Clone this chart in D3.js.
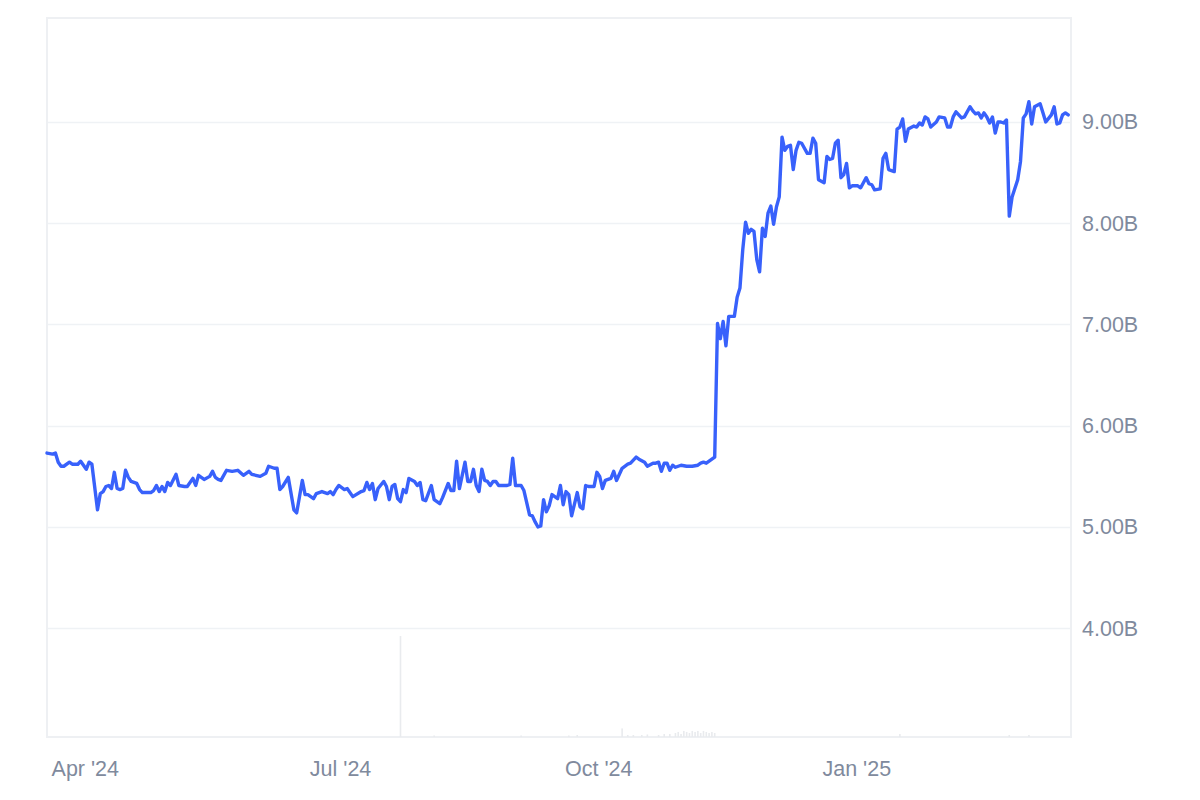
<!DOCTYPE html>
<html>
<head>
<meta charset="utf-8">
<script src="https://cdn.jsdelivr.net/npm/d3@7/dist/d3.min.js"></script>
<style>
  html, body { margin: 0; padding: 0; background: #ffffff; }
  svg { display: block; }
  text { font-family: "Liberation Sans", Arial, Helvetica, sans-serif; }
</style>
</head>
<body>
<svg id="chart" width="1200" height="800"></svg>
<script>
// ---- DATA (market cap, billions USD) ----
const priceSeries = [
["2024-03-18",5.73],["2024-03-20",5.72],["2024-03-21",5.73],["2024-03-22",5.64],["2024-03-23",5.60],["2024-03-24",5.60],
["2024-03-26",5.64],["2024-03-27",5.62],["2024-03-29",5.62],["2024-03-30",5.65],["2024-03-31",5.61],["2024-04-01",5.57],
["2024-04-02",5.64],["2024-04-03",5.62],["2024-04-05",5.17],["2024-04-06",5.33],["2024-04-07",5.35],["2024-04-08",5.40],
["2024-04-09",5.41],["2024-04-10",5.38],["2024-04-11",5.54],["2024-04-12",5.38],["2024-04-13",5.37],["2024-04-14",5.38],
["2024-04-15",5.56],["2024-04-16",5.49],["2024-04-17",5.45],["2024-04-19",5.43],["2024-04-20",5.37],["2024-04-21",5.34],
["2024-04-24",5.34],["2024-04-25",5.36],["2024-04-26",5.41],["2024-04-27",5.35],["2024-04-28",5.40],["2024-04-29",5.35],
["2024-04-30",5.44],["2024-05-01",5.41],["2024-05-03",5.52],["2024-05-04",5.41],["2024-05-06",5.40],["2024-05-07",5.40],
["2024-05-09",5.48],["2024-05-10",5.41],["2024-05-11",5.51],["2024-05-13",5.47],["2024-05-15",5.50],["2024-05-16",5.55],
["2024-05-17",5.49],["2024-05-18",5.47],["2024-05-19",5.46],["2024-05-21",5.56],["2024-05-23",5.55],["2024-05-25",5.56],
["2024-05-27",5.51],["2024-05-29",5.55],["2024-05-30",5.52],["2024-06-02",5.50],["2024-06-04",5.53],["2024-06-05",5.60],
["2024-06-07",5.58],["2024-06-08",5.58],["2024-06-09",5.37],["2024-06-10",5.40],["2024-06-12",5.49],["2024-06-14",5.17],
["2024-06-15",5.14],["2024-06-17",5.46],["2024-06-18",5.32],["2024-06-19",5.32],["2024-06-21",5.28],["2024-06-22",5.33],
["2024-06-24",5.35],["2024-06-26",5.33],["2024-06-27",5.35],["2024-06-28",5.32],["2024-06-29",5.37],["2024-06-30",5.41],
["2024-07-02",5.37],["2024-07-03",5.38],["2024-07-05",5.30],["2024-07-08",5.35],["2024-07-09",5.36],["2024-07-10",5.44],
["2024-07-11",5.37],["2024-07-12",5.43],["2024-07-13",5.27],["2024-07-14",5.38],["2024-07-16",5.45],["2024-07-17",5.40],
["2024-07-18",5.27],["2024-07-19",5.40],["2024-07-20",5.42],["2024-07-21",5.28],["2024-07-22",5.25],["2024-07-23",5.37],
["2024-07-24",5.34],["2024-07-25",5.48],["2024-07-27",5.45],["2024-07-28",5.41],["2024-07-29",5.44],["2024-07-30",5.27],
["2024-07-31",5.26],["2024-08-02",5.41],["2024-08-03",5.27],["2024-08-05",5.23],["2024-08-06",5.29],["2024-08-08",5.43],
["2024-08-09",5.36],["2024-08-10",5.36],["2024-08-11",5.65],["2024-08-12",5.38],["2024-08-14",5.64],["2024-08-15",5.45],
["2024-08-16",5.45],["2024-08-17",5.57],["2024-08-18",5.41],["2024-08-19",5.35],["2024-08-20",5.57],["2024-08-21",5.46],
["2024-08-22",5.45],["2024-08-23",5.41],["2024-08-24",5.45],["2024-08-25",5.45],["2024-08-26",5.41],["2024-08-29",5.41],
["2024-08-30",5.42],["2024-08-31",5.68],["2024-09-01",5.41],["2024-09-03",5.41],["2024-09-04",5.36],["2024-09-06",5.12],
["2024-09-07",5.11],["2024-09-08",5.05],["2024-09-09",5.00],["2024-09-10",5.01],["2024-09-11",5.27],["2024-09-12",5.15],
["2024-09-13",5.21],["2024-09-14",5.32],["2024-09-15",5.30],["2024-09-16",5.28],["2024-09-17",5.41],["2024-09-18",5.22],
["2024-09-19",5.35],["2024-09-20",5.32],["2024-09-21",5.11],["2024-09-23",5.34],["2024-09-24",5.20],["2024-09-25",5.18],
["2024-09-26",5.41],["2024-09-27",5.40],["2024-09-29",5.40],["2024-09-30",5.54],["2024-10-01",5.50],["2024-10-02",5.38],
["2024-10-03",5.46],["2024-10-05",5.48],["2024-10-06",5.55],["2024-10-07",5.46],["2024-10-09",5.58],["2024-10-11",5.62],
["2024-10-12",5.63],["2024-10-14",5.69],["2024-10-15",5.67],["2024-10-17",5.64],["2024-10-18",5.60],["2024-10-20",5.63],
["2024-10-21",5.63],["2024-10-22",5.64],["2024-10-23",5.55],["2024-10-24",5.63],["2024-10-25",5.63],["2024-10-26",5.56],
["2024-10-27",5.61],["2024-10-28",5.59],["2024-10-30",5.61],["2024-11-01",5.60],["2024-11-03",5.60],["2024-11-05",5.61],
["2024-11-06",5.63],["2024-11-07",5.64],["2024-11-08",5.63],["2024-11-10",5.67],["2024-11-11",5.69],["2024-11-12",7.01],
["2024-11-13",6.86],["2024-11-14",7.03],["2024-11-15",6.79],["2024-11-16",7.08],["2024-11-17",7.08],["2024-11-18",7.08],
["2024-11-19",7.27],["2024-11-20",7.36],["2024-11-21",7.74],["2024-11-22",8.01],["2024-11-23",7.90],["2024-11-24",7.94],
["2024-11-25",7.92],["2024-11-26",7.64],["2024-11-27",7.52],["2024-11-28",7.95],["2024-11-29",7.87],["2024-11-30",8.10],
["2024-12-01",8.17],["2024-12-02",7.99],["2024-12-03",8.16],["2024-12-04",8.26],["2024-12-05",8.85],["2024-12-06",8.72],
["2024-12-07",8.76],["2024-12-08",8.77],["2024-12-09",8.53],["2024-12-10",8.72],["2024-12-11",8.80],["2024-12-12",8.79],
["2024-12-14",8.69],["2024-12-15",8.69],["2024-12-16",8.84],["2024-12-17",8.79],["2024-12-18",8.43],["2024-12-20",8.40],
["2024-12-21",8.66],["2024-12-22",8.63],["2024-12-23",8.64],["2024-12-24",8.79],["2024-12-25",8.82],["2024-12-26",8.45],
["2024-12-27",8.48],["2024-12-28",8.59],["2024-12-29",8.35],["2024-12-30",8.37],["2025-01-01",8.37],["2025-01-02",8.35],
["2025-01-03",8.40],["2025-01-04",8.45],["2025-01-05",8.39],["2025-01-06",8.38],["2025-01-07",8.33],["2025-01-09",8.34],
["2025-01-10",8.64],["2025-01-11",8.69],["2025-01-12",8.53],["2025-01-14",8.51],["2025-01-15",8.93],["2025-01-16",8.95],
["2025-01-17",9.03],["2025-01-18",8.81],["2025-01-19",8.93],["2025-01-21",8.96],["2025-01-22",8.95],["2025-01-23",8.99],
["2025-01-24",8.97],["2025-01-25",9.05],["2025-01-26",9.03],["2025-01-27",8.95],["2025-01-29",9.00],["2025-01-30",9.05],
["2025-02-01",9.04],["2025-02-02",8.95],["2025-02-03",8.95],["2025-02-04",9.05],["2025-02-05",9.10],["2025-02-07",9.04],
["2025-02-08",9.05],["2025-02-10",9.15],["2025-02-11",9.11],["2025-02-12",9.08],["2025-02-13",9.09],["2025-02-14",9.04],
["2025-02-15",9.09],["2025-02-16",9.05],["2025-02-17",8.99],["2025-02-18",9.05],["2025-02-19",8.89],["2025-02-20",9.00],
["2025-02-21",9.00],["2025-02-22",8.99],["2025-02-23",9.02],["2025-02-24",8.07],["2025-02-25",8.26],["2025-02-27",8.43],
["2025-02-28",8.61],["2025-03-01",9.04],["2025-03-02",9.08],["2025-03-03",9.20],["2025-03-04",8.98],["2025-03-05",9.15],
["2025-03-07",9.18],["2025-03-08",9.09],["2025-03-09",9.00],["2025-03-11",9.07],["2025-03-12",9.15],["2025-03-13",8.98],
["2025-03-14",8.99],["2025-03-15",9.07],["2025-03-16",9.09],["2025-03-17",9.07]
];

// volume (relative units, faint bars at the bottom)
const volumeSeries = [
["2024-07-22",100],["2024-08-03",1.5],["2024-09-03",1.5],["2024-09-20",1.5],["2024-09-23",2],
["2024-10-09",8.5],["2024-10-11",2],["2024-10-13",2],["2024-10-16",2],["2024-10-18",2.5],["2024-10-22",2],
["2024-10-24",3],["2024-10-26",3],["2024-10-28",4],["2024-10-29",5],["2024-10-30",3],["2024-10-31",6],
["2024-11-01",5],["2024-11-02",4],["2024-11-03",6],["2024-11-04",5],["2024-11-05",6],["2024-11-06",4],
["2024-11-07",6],["2024-11-08",5],["2024-11-09",4],["2024-11-10",5],["2024-11-11",4],
["2025-01-16",3],["2025-02-24",2],["2025-03-03",2]
];

const xDomain = ["2024-03-18","2025-03-18"];
const yDomain = [2.926, 10.027];
const volumeMax = 100;
const yTicks = [4, 5, 6, 7, 8, 9];
const xTickDates = ["2024-04-01","2024-07-01","2024-10-01","2025-01-01"];
const xTickLabels = ["Apr '24","Jul '24","Oct '24","Jan '25"];

// ---- LAYOUT ----
const plot = { left: 47, right: 1071, top: 18, bottom: 737 };
const parse = d3.utcParse("%Y-%m-%d");

const svg = d3.select("#chart");

const x = d3.scaleUtc()
  .domain(xDomain.map(parse))
  .range([plot.left, plot.right]);

const y = d3.scaleLinear()
  .domain(yDomain)
  .range([plot.bottom, plot.top]);

const yVol = d3.scaleLinear()
  .domain([0, volumeMax])
  .range([plot.bottom, plot.bottom - 101]);

// gridlines
svg.append("g")
  .selectAll("line")
  .data(yTicks)
  .join("line")
  .attr("x1", plot.left)
  .attr("x2", plot.right)
  .attr("y1", d => Math.round(y(d)) + 0.5)
  .attr("y2", d => Math.round(y(d)) + 0.5)
  .attr("stroke", "#EFF2F5")
  .attr("stroke-width", 1.5);

// frame
svg.append("rect")
  .attr("x", plot.left)
  .attr("y", plot.top)
  .attr("width", plot.right - plot.left)
  .attr("height", plot.bottom - plot.top)
  .attr("fill", "none")
  .attr("stroke", "#EEF0F3")
  .attr("stroke-width", 2);

// volume bars
svg.append("g")
  .selectAll("rect")
  .data(volumeSeries)
  .join("rect")
  .attr("x", d => x(parse(d[0])) - 0.8)
  .attr("width", 1.6)
  .attr("y", d => yVol(d[1]))
  .attr("height", d => plot.bottom - yVol(d[1]))
  .attr("fill", "#E9EBEE");

// line
const line = d3.line()
  .x(d => x(parse(d[0])))
  .y(d => y(d[1]))
  .curve(d3.curveLinear);

svg.append("path")
  .datum(priceSeries)
  .attr("d", line)
  .attr("fill", "none")
  .attr("stroke", "#3861FB")
  .attr("stroke-width", 3.4)
  .attr("stroke-linejoin", "round")
  .attr("stroke-linecap", "round");

// y axis (right)
const yAxis = d3.axisRight(y)
  .tickValues(yTicks)
  .tickFormat(d => d3.format(".2f")(d) + "B")
  .tickSize(0)
  .tickPadding(11);

const gy = svg.append("g")
  .attr("transform", `translate(${plot.right},0)`)
  .call(yAxis);
gy.select(".domain").remove();
gy.selectAll("text")
  .attr("fill", "#808A9D")
  .style("font-size", "21.5px")
  .style("font-family", "'Liberation Sans', Arial, sans-serif");

// x axis (bottom)
const xAxis = d3.axisBottom(x)
  .tickValues(xTickDates.map(parse))
  .tickFormat((d, i) => xTickLabels[i])
  .tickSize(0)
  .tickPadding(24);

const gx = svg.append("g")
  .attr("transform", `translate(-1.5,${plot.bottom})`)
  .call(xAxis);
gx.select(".domain").remove();
gx.selectAll("text")
  .attr("fill", "#808A9D")
  .style("font-size", "21.5px")
  .style("font-family", "'Liberation Sans', Arial, sans-serif");
</script>
</body>
</html>
